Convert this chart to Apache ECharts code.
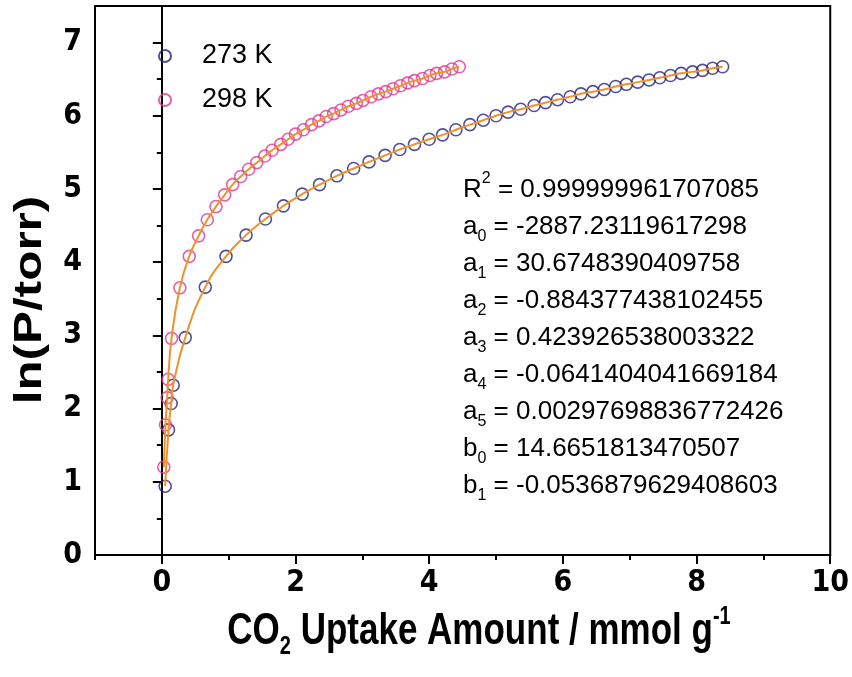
<!DOCTYPE html>
<html>
<head>
<meta charset="utf-8">
<script src="https://cdn.jsdelivr.net/npm/echarts@6/dist/echarts.min.js"></script>
<style>html,body{margin:0;padding:0;background:#fff;}#c{width:852px;height:677px;}</style>
</head>
<body>
<div id="c"></div>
<script>
// ---- data ----
const x273 = [0.05, 0.10, 0.14, 0.17, 0.35, 0.65, 0.96, 1.26, 1.55, 1.82, 2.10, 2.36, 2.62, 2.87, 3.10, 3.34, 3.56, 3.78, 4.00, 4.20, 4.40, 4.61, 4.81, 5.00, 5.18, 5.37, 5.57, 5.74, 5.92, 6.11, 6.27, 6.45, 6.62, 6.79, 6.95, 7.12, 7.29, 7.45, 7.61, 7.77, 7.94, 8.09, 8.24, 8.39];
const y273 = [0.94, 1.71, 2.07, 2.32, 2.97, 3.66, 4.08, 4.37, 4.59, 4.77, 4.93, 5.06, 5.18, 5.28, 5.37, 5.46, 5.54, 5.61, 5.68, 5.74, 5.81, 5.88, 5.94, 6.00, 6.05, 6.09, 6.14, 6.18, 6.22, 6.26, 6.30, 6.33, 6.36, 6.40, 6.43, 6.46, 6.49, 6.52, 6.55, 6.58, 6.60, 6.62, 6.65, 6.67];
const x298 = [0.03, 0.055, 0.08, 0.095, 0.145, 0.27, 0.41, 0.55, 0.68, 0.81, 0.94, 1.06, 1.18, 1.30, 1.42, 1.54, 1.65, 1.78, 1.89, 2.00, 2.12, 2.24, 2.35, 2.46, 2.57, 2.68, 2.79, 2.91, 3.01, 3.13, 3.24, 3.35, 3.46, 3.57, 3.68, 3.78, 3.90, 4.01, 4.11, 4.23, 4.34, 4.45];
const y298 = [1.20, 1.78, 2.15, 2.40, 2.96, 3.65, 4.08, 4.36, 4.58, 4.76, 4.92, 5.06, 5.17, 5.27, 5.36, 5.45, 5.53, 5.61, 5.68, 5.75, 5.81, 5.88, 5.93, 5.99, 6.03, 6.08, 6.13, 6.17, 6.21, 6.26, 6.30, 6.33, 6.37, 6.41, 6.45, 6.48, 6.51, 6.55, 6.58, 6.60, 6.64, 6.67];
const seriesNames = ['273 K', '298 K'];
const xTicks = [0, 2, 4, 6, 8, 10];
const yTicks = [0, 1, 2, 3, 4, 5, 6, 7];
const coefNames = ['R', 'a', 'a', 'a', 'a', 'a', 'a', 'b', 'b'];
const coefMarks = ['2', '0', '1', '2', '3', '4', '5', '0', '1'];
const coefValues = ['0.999999961707085', '-2887.23119617298', '30.6748390409758', '-0.884377438102455', '0.423926538003322', '-0.0641404041669184', '0.00297698836772426', '14.6651813470507', '-0.0536879629408603'];

// ---- build ----
const pairs = (xs, ys) => xs.map((v, i) => [v, ys[i]]);
const NARROW = "'DejaVu Sans Condensed','Liberation Sans Narrow','Liberation Sans',sans-serif";
const SANS = "'Liberation Sans',Arial,sans-serif";
const blue = '#25257d', pink = '#e2388f', orange = '#f0922b';

const coefText = coefNames.map((n, i) =>
  '{m|' + n + '}{' + (i === 0 ? 'sup' : 'sub') + '|' + coefMarks[i] + '}{m| = ' + coefValues[i] + '}'
).join('\n');

const chart = echarts.init(document.getElementById('c'), null, {renderer: 'canvas'});
const commonX = {type: 'value', min: -1, max: 10, gridIndex: 0};
const commonY = {type: 'value', min: 0, max: 7.5, gridIndex: 0};
chart.setOption({
  animation: false,
  backgroundColor: '#fff',
  grid: {left: 95, right: 17, top: 6, bottom: 122, show: true, borderColor: '#000', borderWidth: 2, backgroundColor: 'transparent'},
  legend: {
    data: seriesNames, orient: 'vertical', left: 153, top: 36, itemWidth: 64, itemHeight: 12, itemGap: 14,
    textStyle: {fontSize: 27, fontFamily: SANS, color: '#000', lineHeight: 30}
  },
  xAxis: [
    Object.assign({}, commonX, {
      interval: 1, splitLine: {show: false},
      axisLine: {lineStyle: {color: '#000', width: 2}},
      axisTick: {length: 5, lineStyle: {color: '#000', width: 2}},
      axisLabel: {customValues: xTicks, margin: 13, fontSize: 30, fontWeight: 'bold', fontFamily: NARROW, color: '#000'}
    }),
    Object.assign({}, commonX, {
      position: 'bottom', splitLine: {show: false}, axisLine: {show: false},
      axisTick: {customValues: xTicks, length: 9, lineStyle: {color: '#000', width: 2}},
      axisLabel: {show: false}
    })
  ],
  yAxis: [
    Object.assign({}, commonY, {
      interval: 0.5, splitLine: {show: false},
      axisLine: {lineStyle: {color: '#000', width: 2}},
      axisTick: {length: 5, lineStyle: {color: '#000', width: 2}},
      axisLabel: {customValues: yTicks, margin: 13, fontSize: 30, fontWeight: 'bold', fontFamily: NARROW, color: '#000'}
    }),
    Object.assign({}, commonY, {
      position: 'left', splitLine: {show: false}, axisLine: {show: false},
      axisTick: {customValues: yTicks, length: 9, lineStyle: {color: '#000', width: 2}},
      axisLabel: {show: false}
    })
  ],
  series: [
    {name: seriesNames[0], type: 'scatter', data: pairs(x273, y273), symbol: 'circle', symbolSize: 12,
     itemStyle: {color: 'rgba(0,0,0,0)', borderColor: blue, borderWidth: 1.6}, z: 2},
    {name: seriesNames[1], type: 'scatter', data: pairs(x298, y298), symbol: 'circle', symbolSize: 12,
     itemStyle: {color: 'rgba(0,0,0,0)', borderColor: pink, borderWidth: 1.6}, z: 2},
    {name: 'fit273', type: 'line', data: pairs(x273, y273), showSymbol: false, smooth: 0.5,
     lineStyle: {color: orange, width: 2}, z: 3},
    {name: 'fit298', type: 'line', data: pairs(x298, y298), showSymbol: false, smooth: 0.5,
     lineStyle: {color: orange, width: 2}, z: 3}
  ],
  graphic: [
    {type: 'text', x: 463, y: 171, z: 10, style: {
      text: coefText, align: 'left', verticalAlign: 'top', fill: '#000',
      rich: {
        m: {fontSize: 26, fontFamily: SANS, lineHeight: 37, fill: '#000'},
        sub: {fontSize: 16, fontFamily: SANS, lineHeight: 14, verticalAlign: 'bottom', fill: '#000'},
        sup: {fontSize: 16, fontFamily: SANS, lineHeight: 16, verticalAlign: 'top', fill: '#000'}
      }
    }},
    {type: 'text', x: 479, y: 632, scaleY: 1.28, z: 10, style: {
      text: '{m|CO}{sub|2}{m| Uptake Amount / mmol g}{sup|-1}', align: 'center', verticalAlign: 'middle', fill: '#000',
      rich: {
        m: {fontSize: 35, fontWeight: 'bold', fontFamily: SANS, lineHeight: 44, fill: '#000'},
        sub: {fontSize: 20, fontWeight: 'bold', fontFamily: SANS, lineHeight: 18, verticalAlign: 'bottom', fill: '#000'},
        sup: {fontSize: 20, fontWeight: 'bold', fontFamily: SANS, lineHeight: 20, verticalAlign: 'top', fill: '#000'}
      }
    }},
    {type: 'text', x: 31, y: 300, rotation: Math.PI / 2, scaleX: 1.3, z: 10, style: {
      text: 'ln(P/torr)', align: 'center', verticalAlign: 'middle', fill: '#000',
      fontSize: 38, fontWeight: 'bold', fontFamily: SANS
    }}
  ]
});
</script>
</body>
</html>
